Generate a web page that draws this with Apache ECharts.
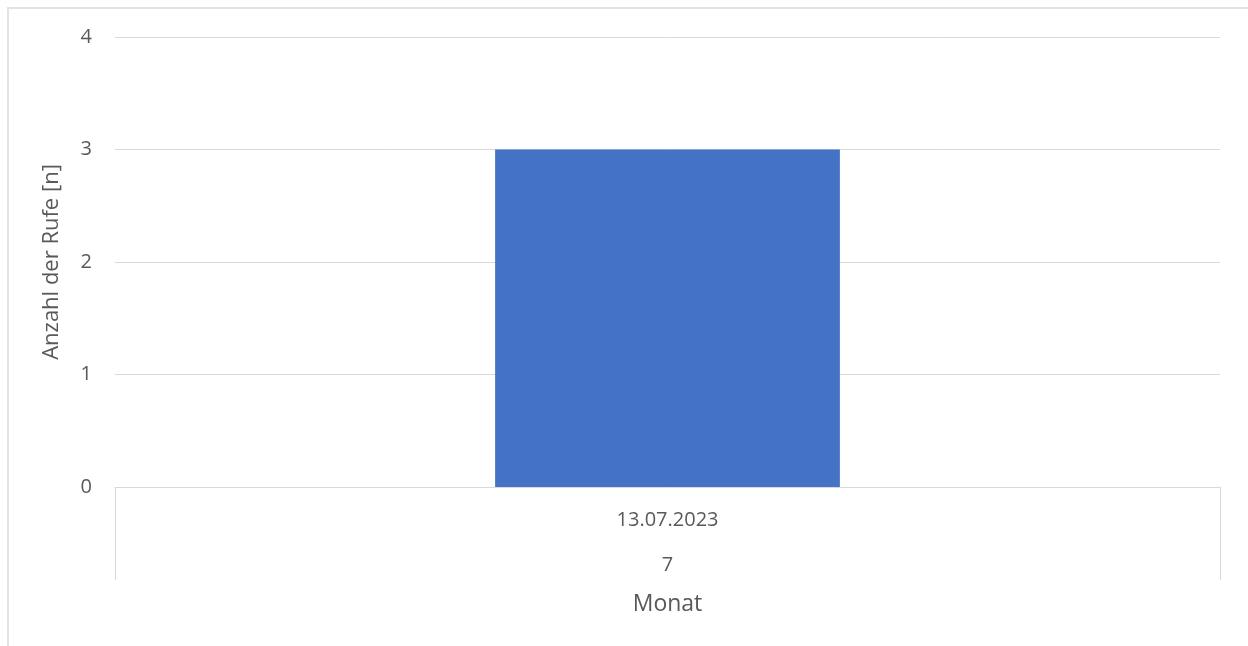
<!DOCTYPE html>
<html>
<head>
<meta charset="utf-8">
<script src="https://cdn.jsdelivr.net/npm/echarts@6/dist/echarts.min.js"></script>
<style>
  html, body { margin: 0; padding: 0; background: #fff; }
  #chart { width: 1248px; height: 646px; }
</style>
</head>
<body>
<div id="chart"></div>
<script>
// Calls per day, grouped by month
const dates = ['13.07.2023'];
const months = ['7'];
const calls = [3];
const yTicks = { min: 0, max: 4, step: 1 };

const textColor = '#595959';
const lineColor = '#d9d9d9';
const font = '"Open Sans", Lato, sans-serif';

const chart = echarts.init(document.getElementById('chart'));
chart.setOption({
  animation: false,
  grid: { left: 115, right: 28, top: 37, bottom: 159, containLabel: false },
  graphic: [{
    type: 'rect',
    shape: { x: 8, y: 8, width: 1400, height: 800 },
    style: { fill: 'none', stroke: '#e3e3e3', lineWidth: 2 },
    silent: true
  }],
  xAxis: [{
    type: 'category',
    data: dates,
    position: 'bottom',
    axisLine: { show: true, lineStyle: { color: lineColor, width: 1 } },
    axisTick: { show: true, length: 93, alignWithLabel: false, lineStyle: { color: lineColor } },
    axisLabel: { color: textColor, fontSize: 20, fontFamily: font, margin: 23 },
    splitLine: { show: false }
  }, {
    type: 'category',
    data: months,
    position: 'bottom',
    offset: 45,
    axisLine: { show: false },
    axisTick: { show: false },
    axisLabel: { color: textColor, fontSize: 20, fontFamily: font, margin: 23 },
    name: 'Monat',
    nameLocation: 'middle',
    nameGap: 61,
    nameTextStyle: { color: textColor, fontSize: 23, fontFamily: font }
  }],
  yAxis: {
    type: 'value',
    min: yTicks.min,
    max: yTicks.max,
    interval: yTicks.step,
    axisLine: { show: false },
    axisTick: { show: false },
    axisLabel: { color: textColor, fontSize: 20, fontFamily: font, margin: 23 },
    splitLine: { lineStyle: { color: lineColor, width: 1 } },
    name: 'Anzahl der Rufe [n]',
    nameLocation: 'middle',
    nameGap: 52,
    nameRotate: 90,
    nameTextStyle: { color: textColor, fontSize: 22, fontFamily: font }
  },
  series: [{
    type: 'bar',
    data: calls,
    xAxisIndex: 0,
    barWidth: '31.2%',
    itemStyle: { color: '#4472c4' }
  }]
});
</script>
</body>
</html>
